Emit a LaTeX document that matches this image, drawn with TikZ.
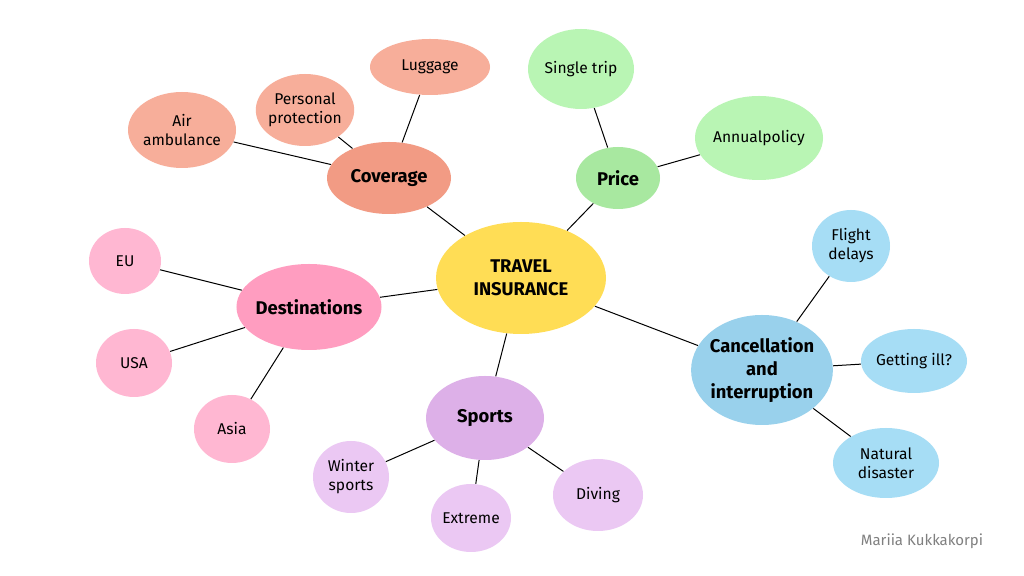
\documentclass[tikz,border=0pt]{standalone}
\usepackage{fontspec}
\setmainfont{Fira Sans}
\usetikzlibrary{shapes.geometric}
\definecolor{yel}{HTML}{FFDD55}
\definecolor{covmain}{HTML}{F29B84}
\definecolor{covsub}{HTML}{F7AE9A}
\definecolor{primain}{HTML}{A8E8A0}
\definecolor{prisub}{HTML}{B9F5B4}
\definecolor{desmain}{HTML}{FF9DC0}
\definecolor{dessub}{HTML}{FFB7D2}
\definecolor{spomain}{HTML}{DDB0E8}
\definecolor{sposub}{HTML}{EBC8F3}
\definecolor{canmain}{HTML}{99D1EC}
\definecolor{cansub}{HTML}{A6DDF5}
\tikzset{
  bubble/.style={ellipse, inner sep=-1pt, align=center, font=\fontsize{7.8}{9.5}\selectfont},
  mainbubble/.style={bubble, font=\fontsize{9.2}{11.5}\selectfont\bfseries},
  link/.style={black, line width=0.5pt}
}
\begin{document}
\begin{tikzpicture}[x=0.5pt, y=-0.5pt]
\useasboundingbox (0,0) rectangle (1024,576);
\fill[white] (0,0) rectangle (1024,576);
\node[mainbubble, fill=yel, minimum width=85pt, minimum height=56pt] (ti) at (521,278) {TRAVEL\\INSURANCE};
\node[mainbubble, fill=covmain, minimum width=62pt, minimum height=36pt] (cov) at (389,178) {Coverage};
\node[mainbubble, fill=primain, minimum width=42pt, minimum height=31pt] (pri) at (618,178) {Price};
\node[mainbubble, fill=desmain, minimum width=68pt, minimum height=43pt] (des) at (309,307) {Destinations};
\node[mainbubble, fill=spomain, minimum width=59pt, minimum height=42pt] (spo) at (485,418) {Sports};
\node[mainbubble, fill=canmain, minimum width=70pt, minimum height=55pt] (can) at (762,370) {Cancellation\\and\\interruption};
% coverage
\node[bubble, fill=covsub, minimum width=60pt, minimum height=28pt] (lug) at (430,67) {Luggage};
\node[bubble, fill=covsub, minimum width=47pt, minimum height=36pt] (per) at (305,110) {Personal\\protection};
\node[bubble, fill=covsub, minimum width=54pt, minimum height=38pt] (air) at (182,130) {Air\\ambulance};
% price
\node[bubble, fill=prisub, minimum width=53pt, minimum height=40pt] (sin) at (581,69) {Single trip};
\node[bubble, fill=prisub, minimum width=64pt, minimum height=42pt] (ann) at (759,138) {Annualpolicy};
% destinations
\node[bubble, fill=dessub, minimum width=36pt, minimum height=33pt] (eu) at (125,261) {EU};
\node[bubble, fill=dessub, minimum width=38pt, minimum height=34pt] (usa) at (134,363) {USA};
\node[bubble, fill=dessub, minimum width=38pt, minimum height=34pt] (asi) at (232,429) {Asia};
% sports
\node[bubble, fill=sposub, minimum width=38pt, minimum height=36pt] (win) at (351,477) {Winter\\sports};
\node[bubble, fill=sposub, minimum width=40pt, minimum height=34pt] (ext) at (471,518) {Extreme};
\node[bubble, fill=sposub, minimum width=45pt, minimum height=36pt] (div) at (598,495) {Diving};
% cancellation
\node[bubble, fill=cansub, minimum width=39pt, minimum height=36pt] (fli) at (851,246) {Flight\\delays};
\node[bubble, fill=cansub, minimum width=53pt, minimum height=32pt] (ill) at (914,361) {Getting ill?};
\node[bubble, fill=cansub, minimum width=53pt, minimum height=35pt] (nat) at (886,463) {Natural\\disaster};
\node[text=gray, font=\fontsize{7.5}{9}\selectfont] (sig) at (922,541) {Mariia Kukkakorpi};
\foreach \a/\b in {ti/cov, ti/pri, ti/des, ti/spo, ti/can,
  cov/lug, cov/per, cov/air, pri/sin, pri/ann,
  des/eu, des/usa, des/asi, spo/win, spo/ext, spo/div,
  can/fli, can/ill, can/nat}
{
\draw[link] (\a) -- (\b);
}
\end{tikzpicture}
\end{document}
